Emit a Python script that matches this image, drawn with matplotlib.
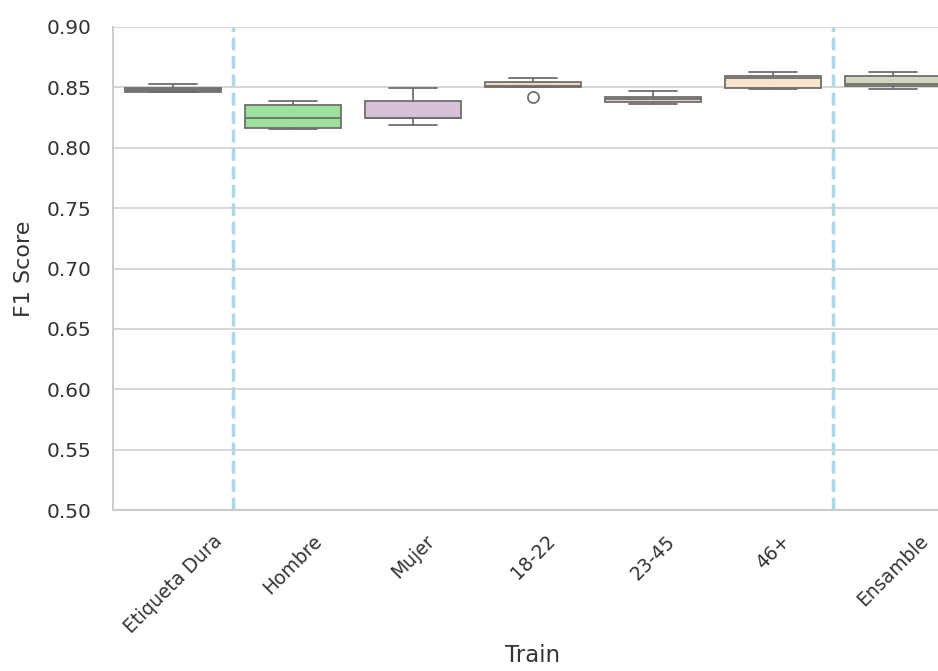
import matplotlib
matplotlib.use("Agg")
import matplotlib.pyplot as plt
import seaborn as sns

# summary stats per training group (F1 score)
groups = ["Etiqueta Dura", "Hombre", "Mujer", "18-22", "23-45", "46+", "Ensamble"]
whis_lo = [0.8458, 0.8158, 0.8188, 0.8500, 0.8362, 0.8487, 0.8487]
q1 = [0.8464, 0.8161, 0.8244, 0.8502, 0.8381, 0.8492, 0.8514]
median = [0.8480, 0.8249, 0.8245, 0.8515, 0.8400, 0.8580, 0.8528]
q3 = [0.8497, 0.8354, 0.8390, 0.8547, 0.8423, 0.8597, 0.8594]
whis_hi = [0.8525, 0.8387, 0.8495, 0.8575, 0.8473, 0.8625, 0.8625]
outliers = [[], [], [], [0.8423], [], [], []]

box_colors = ["#a9a99e", "#9ce29c", "#d5c2d5", "#f6d9c0", "#e8d3bc", "#f8e3cb", "#d6d6bc"]

sns.set_style("whitegrid")
plt.rcParams["font.family"] = ["DejaVu Sans"]

fig = plt.figure(figsize=(9.38, 6.71), dpi=100)
ax = fig.add_axes([0.1205, 0.2399, 0.8955, 0.7199])

stats = []
for i, g in enumerate(groups):
    stats.append({
        "label": g,
        "whislo": whis_lo[i],
        "q1": q1[i],
        "med": median[i],
        "q3": q3[i],
        "whishi": whis_hi[i],
        "fliers": outliers[i],
    })

edge = "#6e6e6e"
lw = 1.3
bp = ax.bxp(
    stats,
    positions=range(len(groups)),
    widths=0.8,
    patch_artist=True,
    boxprops=dict(edgecolor=edge, linewidth=lw),
    medianprops=dict(color=edge, linewidth=lw),
    whiskerprops=dict(color=edge, linewidth=lw),
    capprops=dict(color=edge, linewidth=lw),
    flierprops=dict(marker="o", markerfacecolor="none", markeredgecolor=edge,
                    markersize=8, markeredgewidth=lw),
    capwidths=0.4,
)
for patch, c in zip(bp["boxes"], box_colors):
    patch.set_facecolor(c)

# separators between baseline / group models / ensemble
for xv in (0.5, 5.5):
    ax.axvline(xv, color="lightblue", linestyle="--", linewidth=2.5, zorder=0.5)

ax.set_xlim(-0.5, len(groups) - 0.5)
ax.set_ylim(0.5, 0.9)
ax.set_yticks([0.5, 0.55, 0.6, 0.65, 0.7, 0.75, 0.8, 0.85, 0.9])
ax.set_yticklabels([f"{v:.2f}" for v in ax.get_yticks()])
ax.grid(axis="x", visible=False)
ax.grid(axis="y", color="#d0d0d0", linewidth=1.2)
for s in ax.spines.values():
    s.set_color("#cccccc")
    s.set_linewidth(1.5)
ax.spines["top"].set_visible(False)

ax.set_xticks(range(len(groups)))
ax.set_xticklabels(groups, rotation=45, fontsize=13.5, color="#333333")
ax.tick_params(axis="x", pad=12)
ax.tick_params(axis="y", labelsize=14.5, labelcolor="#333333", pad=12)
ax.set_xlabel("Train", fontsize=16.5, color="#333333", labelpad=5)
ax.set_ylabel("F1 Score", fontsize=16, color="#333333", labelpad=9)

fig.savefig("out.png", dpi=100)
